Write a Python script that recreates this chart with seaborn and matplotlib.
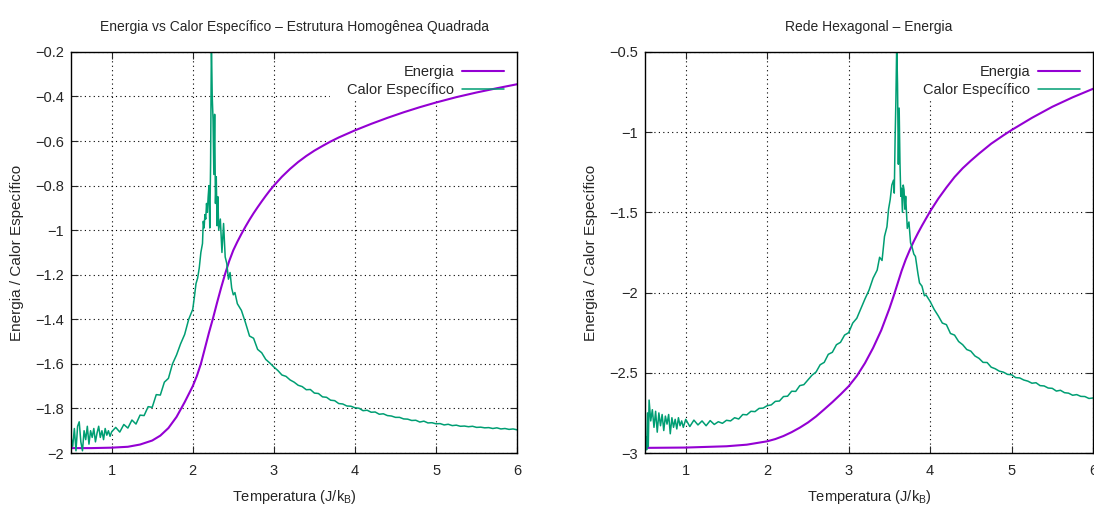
# Energia e calor especifico (Ising) - rede quadrada e rede hexagonal, estilo gnuplot.

import seaborn as sns
import pandas as pd
import matplotlib.pyplot as plt
from matplotlib.patches import Rectangle
from matplotlib.ticker import MultipleLocator

sns.set_style("ticks")
plt.rcParams['font.family'] = ['Liberation Sans', 'DejaVu Sans']
plt.rcParams['mathtext.default'] = 'regular'
plt.rcParams['axes.unicode_minus'] = True

# Cores do gnuplot.
cor_energia = "#9400d3"
cor_calor = "#009e73"

# Rede quadrada - energia.
temp_energia_quad = [0.50, 0.75, 1.00, 1.20, 1.35, 1.50, 1.60, 1.70, 1.80, 1.90, 2.00, 2.05,
                     2.10, 2.15, 2.20, 2.25, 2.30, 2.35, 2.40, 2.45, 2.50, 2.55, 2.60, 2.65,
                     2.70, 2.75, 2.80, 2.85, 2.90, 2.95, 3.00, 3.10, 3.20, 3.30, 3.40, 3.50,
                     3.60, 3.70, 3.80, 3.90, 4.00, 4.20, 4.40, 4.60, 4.80, 5.00, 5.25, 5.50,
                     5.75, 6.00]
energia_quad = [-1.978, -1.978, -1.976, -1.972, -1.962, -1.944, -1.922, -1.888, -1.838, -1.772,
                -1.700, -1.655, -1.600, -1.530, -1.460, -1.395, -1.325, -1.258, -1.195, -1.138,
                -1.090, -1.052, -1.017, -0.984, -0.953, -0.924, -0.897, -0.871, -0.846, -0.822,
                -0.800, -0.760, -0.725, -0.694, -0.667, -0.643, -0.622, -0.602, -0.584, -0.568,
                -0.552, -0.523, -0.496, -0.471, -0.448, -0.427, -0.403, -0.382, -0.363, -0.345]

# Rede quadrada - calor especifico.
temp_calor_quad = [
    0.50, 0.52, 0.54, 0.56, 0.58, 0.60, 0.62, 0.64, 0.66, 0.68, 0.70, 0.72, 0.74, 0.76, 0.78,
    0.80, 0.82, 0.84, 0.86, 0.88, 0.90, 0.92, 0.94, 0.96, 0.98,
    1.00, 1.05, 1.10, 1.15, 1.20, 1.25, 1.30, 1.35, 1.40, 1.45, 1.50, 1.55, 1.60, 1.65, 1.70,
    1.75, 1.80, 1.85, 1.90, 1.95, 2.00,
    2.02, 2.04, 2.06, 2.08, 2.10, 2.12, 2.13, 2.14, 2.15, 2.16, 2.17, 2.18, 2.19, 2.20, 2.21,
    2.22, 2.23, 2.24, 2.25, 2.26, 2.27, 2.28, 2.29, 2.30, 2.31, 2.32, 2.34, 2.36, 2.38, 2.40,
    2.42, 2.44, 2.46, 2.48, 2.50, 2.52, 2.55, 2.60,
    2.65, 2.70, 2.75, 2.80, 2.85, 2.90, 2.95, 3.00, 3.05, 3.10, 3.15, 3.20, 3.25, 3.30, 3.35,
    3.40, 3.45, 3.50, 3.55, 3.60, 3.65, 3.70, 3.75, 3.80, 3.85, 3.90, 3.95, 4.00, 4.05, 4.10,
    4.15, 4.20, 4.25, 4.30, 4.35, 4.40, 4.45, 4.50, 4.55, 4.60, 4.65, 4.70, 4.75, 4.80, 4.85,
    4.90, 4.95, 5.00, 5.05, 5.10, 5.15, 5.20, 5.25, 5.30, 5.35, 5.40, 5.45, 5.50, 5.55, 5.60,
    5.65, 5.70, 5.75, 5.80, 5.85, 5.90, 5.95, 6.00]
calor_quad = [
    -1.930, -1.970, -1.890, -1.990, -1.880, -1.860, -1.950, -1.990, -1.900, -1.940, -1.880,
    -1.960, -1.900, -1.930, -1.890, -1.950, -1.910, -1.880, -1.930, -1.900, -1.940, -1.890,
    -1.920, -1.900, -1.925,
    -1.905, -1.885, -1.906, -1.872, -1.888, -1.852, -1.870, -1.830, -1.832, -1.792, -1.795,
    -1.738, -1.740, -1.682, -1.665, -1.600, -1.560, -1.510, -1.468, -1.400, -1.355,
    -1.300, -1.240, -1.215, -1.170, -1.100, -1.060, -0.960, -0.990, -0.930, -0.950, -0.880,
    -0.920, -0.850, -0.800, -0.990, -0.700, -0.150, -0.400, -0.500, -0.750, -0.480, -0.880,
    -0.760, -0.980, -0.850, -1.000, -0.950, -1.100, -0.970, -1.120, -1.150, -1.220, -1.190,
    -1.260, -1.290, -1.280, -1.330, -1.360,
    -1.415, -1.475, -1.485, -1.535, -1.550, -1.580, -1.596, -1.614, -1.630, -1.650, -1.656,
    -1.672, -1.682, -1.696, -1.702, -1.716, -1.715, -1.731, -1.733, -1.748, -1.750, -1.763,
    -1.765, -1.778, -1.780, -1.789, -1.790, -1.797, -1.799, -1.810, -1.808, -1.817, -1.816,
    -1.826, -1.824, -1.832, -1.834, -1.840, -1.840, -1.847, -1.848, -1.854, -1.853, -1.861,
    -1.857, -1.865, -1.864, -1.869, -1.868, -1.874, -1.871, -1.877, -1.875, -1.880, -1.879,
    -1.882, -1.880, -1.885, -1.884, -1.887, -1.886, -1.890, -1.887, -1.892, -1.890, -1.894,
    -1.892, -1.896]

# Rede hexagonal - energia.
temp_energia_hex = [0.50, 1.00, 1.50, 1.75, 2.00, 2.10, 2.20, 2.30, 2.40, 2.50, 2.60, 2.70,
                    2.80, 2.90, 3.00, 3.10, 3.20, 3.30, 3.40, 3.50, 3.55, 3.60, 3.65, 3.70,
                    3.75, 3.80, 3.85, 3.90, 4.00, 4.10, 4.20, 4.30, 4.40, 4.50, 4.60, 4.75,
                    4.90, 5.00, 5.25, 5.50, 5.75, 6.00]
energia_hex = [-2.968, -2.966, -2.958, -2.948, -2.927, -2.913, -2.894, -2.870, -2.842, -2.810,
               -2.772, -2.728, -2.683, -2.635, -2.584, -2.520, -2.440, -2.345, -2.235, -2.100,
               -2.025, -1.945, -1.865, -1.795, -1.735, -1.680, -1.630, -1.583, -1.494, -1.415,
               -1.345, -1.280, -1.225, -1.178, -1.134, -1.072, -1.020, -0.987, -0.911, -0.842,
               -0.783, -0.730]

# Rede hexagonal - calor especifico.
temp_calor_hex = [
    0.50, 0.51, 0.52, 0.53, 0.54, 0.55, 0.57, 0.59, 0.61, 0.63, 0.65, 0.67, 0.69, 0.71, 0.73,
    0.75, 0.77, 0.79, 0.81, 0.83, 0.85, 0.87, 0.89, 0.91, 0.93, 0.95, 0.97,
    1.00, 1.05, 1.10, 1.15, 1.20, 1.25, 1.30, 1.35, 1.40, 1.45, 1.50, 1.55, 1.60, 1.65, 1.70,
    1.75, 1.80, 1.85, 1.90, 1.95, 2.00, 2.05, 2.10, 2.15, 2.20, 2.25, 2.30, 2.35, 2.40, 2.45,
    2.50, 2.55, 2.60, 2.65, 2.70, 2.75, 2.80, 2.85, 2.90, 2.95, 3.00, 3.05, 3.10, 3.15, 3.20,
    3.25, 3.30, 3.35,
    3.38, 3.41, 3.44, 3.47, 3.49, 3.51, 3.53, 3.55, 3.56, 3.57, 3.58, 3.59, 3.60, 3.61, 3.62,
    3.63, 3.64, 3.65, 3.66, 3.67, 3.68, 3.69, 3.70, 3.72, 3.74, 3.76, 3.78, 3.80, 3.82, 3.85,
    3.87, 3.90, 3.93, 3.95,
    4.00, 4.05, 4.10, 4.15, 4.20, 4.25, 4.30, 4.35, 4.40, 4.45, 4.50, 4.55, 4.60, 4.65, 4.70,
    4.75, 4.80, 4.85, 4.90, 4.95, 5.00, 5.05, 5.10, 5.15, 5.20, 5.25, 5.30, 5.35, 5.40, 5.45,
    5.50, 5.55, 5.60, 5.65, 5.70, 5.75, 5.80, 5.85, 5.90, 5.95, 6.00]
calor_hex = [
    -2.990, -2.900, -2.980, -2.750, -2.960, -2.670, -2.800, -2.730, -2.840, -2.740, -2.870,
    -2.750, -2.830, -2.760, -2.860, -2.770, -2.820, -2.760, -2.880, -2.780, -2.840, -2.790,
    -2.850, -2.780, -2.830, -2.800, -2.840,
    -2.790, -2.835, -2.795, -2.825, -2.800, -2.830, -2.798, -2.822, -2.805, -2.815, -2.796,
    -2.800, -2.780, -2.788, -2.760, -2.762, -2.740, -2.742, -2.722, -2.720, -2.705, -2.700,
    -2.678, -2.676, -2.648, -2.646, -2.615, -2.616, -2.580, -2.574, -2.545, -2.515, -2.495,
    -2.450, -2.435, -2.385, -2.372, -2.325, -2.310, -2.265, -2.250, -2.190, -2.160, -2.100,
    -2.040, -1.985, -1.910, -1.860,
    -1.780, -1.800, -1.650, -1.590, -1.480, -1.420, -1.330, -1.300, -1.380, -1.050, -0.800,
    -0.450, -0.700, -1.200, -0.850, -1.190, -1.400, -1.350, -1.500, -1.330, -1.360, -1.480,
    -1.400, -1.600, -1.560, -1.690, -1.720, -1.760, -1.775, -1.880, -1.940, -1.960, -2.020,
    -2.015,
    -2.055, -2.105, -2.145, -2.190, -2.200, -2.255, -2.265, -2.305, -2.325, -2.355, -2.365,
    -2.395, -2.410, -2.435, -2.436, -2.465, -2.475, -2.490, -2.496, -2.510, -2.512, -2.530,
    -2.532, -2.545, -2.552, -2.565, -2.562, -2.580, -2.582, -2.595, -2.597, -2.614, -2.609,
    -2.624, -2.627, -2.640, -2.636, -2.647, -2.648, -2.660, -2.657]


def make_panel(ax, t_e, e, t_c, c, title, y_min, y_max, step, box_left):
    de = pd.DataFrame({"T": t_e, "valor": e})
    dc = pd.DataFrame({"T": t_c, "valor": c})
    sns.lineplot(data=de, x="T", y="valor", ax=ax, color=cor_energia, lw=1.5,
                 label="Energia", estimator=None, sort=False)
    sns.lineplot(data=dc, x="T", y="valor", ax=ax, color=cor_calor, lw=1.1,
                 label="Calor Específico", estimator=None, sort=False)

    ax.set_xlim(0.5, 6)
    ax.set_ylim(y_min, y_max)
    ax.xaxis.set_major_locator(MultipleLocator(1))
    ax.yaxis.set_major_locator(MultipleLocator(step))
    ax.yaxis.set_major_formatter(plt.FuncFormatter(lambda v, p: f"{v:g}".replace("-", "\u2212")))
    ax.set_axisbelow(True)
    ax.grid(True, color="k", linestyle=(0, (1, 3)), linewidth=0.8)
    ax.tick_params(direction="in", top=True, right=True, length=5, width=0.8,
                   labelsize=10.5, pad=5)
    ax.tick_params(axis="x", pad=8)
    for s in ax.spines.values():
        s.set_linewidth(1.0)
        s.set_color("k")

    # fundo branco da legenda (esconde a grade como no gnuplot)
    ax.add_patch(Rectangle((box_left, 0.883), 1 - box_left, 0.117, transform=ax.transAxes,
                           facecolor="white", edgecolor="none", zorder=1))

    ax.set_title(title, fontsize=10, pad=15)
    ax.set_xlabel("Temperatura (J/k$_B$)", fontsize=10.5, labelpad=7)
    ax.set_ylabel("Energia / Calor Específico", fontsize=11, labelpad=8)

    leg = ax.legend(loc="upper right", frameon=False, markerfirst=False, fontsize=10.5,
                    handlelength=2.9, handletextpad=0.5, labelspacing=0.3,
                    borderaxespad=0.7, borderpad=0.2)
    for vp in leg._legend_handle_box.get_children():
        vp.align = "right"


fig = plt.figure(figsize=(10.94, 5.09), dpi=100)
ax1 = fig.add_axes([0.0650, 0.110, 0.4077, 0.788])
ax2 = fig.add_axes([0.5896, 0.110, 0.4095, 0.788])

make_panel(ax1, temp_energia_quad, energia_quad, temp_calor_quad, calor_quad,
           "Energia vs Calor Específico – Estrutura Homogênea Quadrada", -2, -0.2, 0.2, 0.581)
make_panel(ax2, temp_energia_hex, energia_hex, temp_calor_hex, calor_hex,
           "Rede Hexagonal – Energia", -3, -0.5, 0.5, 0.587)

plt.savefig("out.png", dpi=100)
